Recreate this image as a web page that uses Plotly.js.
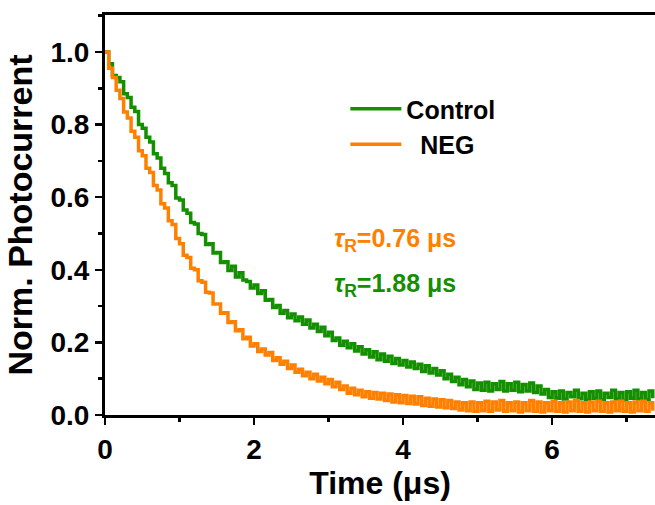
<!DOCTYPE html>
<html>
<head>
<meta charset="utf-8">
<script src="https://cdn.plot.ly/plotly-3.0.1.min.js"></script>
<style>html,body{margin:0;padding:0;background:#fff;}#chart{width:655px;height:505px;}</style>
</head>
<body>
<div id="chart"></div>
<script>
const timeStep = 0.05;
const controlValues = [
  1.000,0.968,0.935,0.93,0.918,0.885,0.875,0.848,0.836,0.80,
  0.79,0.765,0.752,0.72,0.708,0.68,0.665,0.64,0.632,0.598,
  0.592,0.565,0.556,0.53,0.526,0.50,0.497,0.47,0.472,0.446,
  0.448,0.42,0.422,0.398,0.41,0.38,0.392,0.372,0.368,0.35,
  0.358,0.335,0.342,0.316,0.318,0.296,0.302,0.28,0.288,0.268,
  0.278,0.26,0.27,0.25,0.262,0.24,0.25,0.23,0.242,0.218,
  0.228,0.205,0.212,0.192,0.203,0.185,0.196,0.176,0.188,0.168,
  0.18,0.16,0.174,0.152,0.168,0.148,0.162,0.142,0.156,0.138,
  0.15,0.132,0.146,0.128,0.14,0.12,0.136,0.116,0.128,0.11,
  0.122,0.1,0.112,0.092,0.104,0.083,0.098,0.078,0.094,0.07,
  0.088,0.068,0.09,0.066,0.086,0.07,0.092,0.066,0.086,0.068,
  0.09,0.064,0.084,0.066,0.088,0.062,0.08,0.058,0.07,0.048,
  0.064,0.046,0.066,0.044,0.062,0.05,0.068,0.045,0.06,0.042,
  0.064,0.046,0.066,0.042,0.06,0.048,0.068,0.044,0.062,0.04,
  0.064,0.046,0.068,0.044,0.062,0.042,0.066,0.046
];
const negValues = [
  1.000,0.955,0.93,0.895,0.872,0.835,0.818,0.782,0.765,0.728,
  0.714,0.68,0.668,0.632,0.62,0.582,0.57,0.535,0.525,0.486,
  0.472,0.44,0.434,0.404,0.4,0.37,0.366,0.338,0.336,0.306,
  0.306,0.28,0.282,0.255,0.257,0.232,0.235,0.21,0.214,0.19,
  0.196,0.175,0.182,0.165,0.172,0.15,0.158,0.14,0.148,0.128,
  0.138,0.118,0.126,0.108,0.118,0.1,0.112,0.094,0.104,0.086,
  0.098,0.078,0.09,0.07,0.08,0.06,0.074,0.056,0.068,0.05,
  0.064,0.046,0.062,0.044,0.06,0.04,0.058,0.036,0.056,0.034,
  0.054,0.032,0.052,0.03,0.05,0.026,0.046,0.024,0.044,0.022,
  0.042,0.02,0.04,0.018,0.036,0.014,0.034,0.012,0.036,0.01,
  0.034,0.012,0.038,0.01,0.036,0.014,0.04,0.01,0.034,0.012,
  0.036,0.008,0.034,0.012,0.04,0.01,0.036,0.008,0.034,0.012,
  0.038,0.01,0.034,0.008,0.036,0.012,0.04,0.01,0.034,0.008,
  0.036,0.012,0.038,0.01,0.034,0.008,0.036,0.012,0.038,0.01,
  0.034,0.008,0.036,0.012,0.038,0.01,0.034,0.012
];
const seriesNames = ["Control", "\u00a0\u00a0NEG"];
const tauLabels = ["<i>τ</i><sub>R</sub>=0.76 μs", "<i>τ</i><sub>R</sub>=1.88 μs"];
const xTickVals = [0, 2, 4, 6];
const yTickVals = [0, 0.2, 0.4, 0.6, 0.8, 1.0];

const times = controlValues.map((_, i) => +(i * timeStep).toFixed(2));
const green = "#138f00";
const orange = "#ff8000";
const fam = "Liberation Sans, Arial, sans-serif";
const f = (size, color) => ({family: fam, size: size, color: color || "#000", weight: "bold"});

const traces = [
  {x: times, y: controlValues, name: seriesNames[0], mode: "lines",
   line: {color: green, width: 3.5, shape: "hv"}},
  {x: times, y: negValues, name: seriesNames[1], mode: "lines",
   line: {color: orange, width: 3.5, shape: "hv"}}
];

const layout = {
  width: 655, height: 505,
  margin: {l: 105, r: 0, t: 15, b: 90},
  paper_bgcolor: "#fff", plot_bgcolor: "#fff",
  showlegend: true,
  legend: {x: 0.437, y: 0.8225, xanchor: "left", yanchor: "top", bgcolor: "rgba(0,0,0,0)",
           itemwidth: 51, font: f(25)},
  xaxis: {
    range: [0, 7.38], tickvals: xTickVals, ticktext: xTickVals.map(String),
    showline: true, linewidth: 3, linecolor: "#000", mirror: true,
    ticks: "outside", ticklen: 7, tickwidth: 2.5, tickcolor: "#000",
    minor: {dtick: 1, tick0: 0, ticks: "outside", ticklen: 4, tickwidth: 2.5, tickcolor: "#000"},
    showgrid: false, zeroline: false,
    tickfont: f(28),
    title: {text: "Time (μs)", standoff: 8, font: f(32)}
  },
  yaxis: {
    range: [0, 1.102], tickvals: yTickVals, ticktext: yTickVals.map(v => v.toFixed(1)),
    showline: true, linewidth: 3, linecolor: "#000",
    ticks: "outside", ticklen: 7, tickwidth: 2.5, tickcolor: "#000",
    minor: {dtick: 0.1, tick0: 0, ticks: "outside", ticklen: 4, tickwidth: 2.5, tickcolor: "#000"},
    showgrid: false, zeroline: false,
    tickfont: f(28),
    title: {text: "Norm. Photocurrent", standoff: 8, font: f(34)}
  },
  annotations: [
    {x: 3.04, y: 0.482, xref: "x", yref: "y", xanchor: "left", yanchor: "middle", showarrow: false,
     text: tauLabels[0], font: f(25, orange)},
    {x: 3.04, y: 0.358, xref: "x", yref: "y", xanchor: "left", yanchor: "middle", showarrow: false,
     text: tauLabels[1], font: f(25, green)}
  ]
};

Plotly.newPlot("chart", traces, layout, {displayModeBar: false, staticPlot: true});
</script>
</body>
</html>
